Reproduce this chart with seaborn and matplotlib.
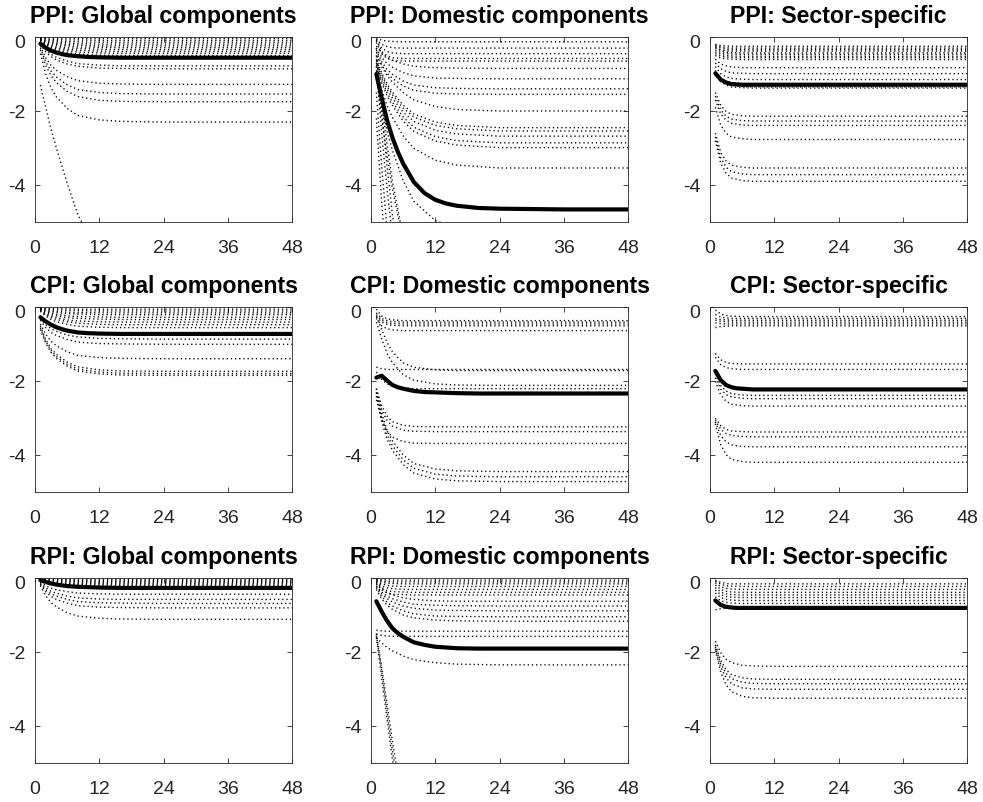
import numpy as np
import pandas as pd
import matplotlib
matplotlib.use("Agg")
import matplotlib.pyplot as plt
import matplotlib.transforms as mtransforms
import seaborn as sns

# ---------------- data ----------------
H = [1, 2, 3, 4, 6, 8, 12, 16, 24, 48]                       # horizons of dotted lines
H_THICK = [1, 2, 3, 4, 5, 6, 8, 10, 12, 14, 16, 20, 24, 36, 48]  # horizons of thick lines

titles = ["PPI: Global components", "PPI: Domestic components", "PPI: Sector-specific",
          "CPI: Global components", "CPI: Domestic components", "CPI: Sector-specific",
          "RPI: Global components", "RPI: Domestic components", "RPI: Sector-specific"]

x_ticks = [0, 12, 24, 36, 48]
y_ticks = [-4, -2, 0]
y_tick_labels = ["-4", "-2", "0"]

ppi_global_lines = [
    [-0.01, -0.02, -0.03, -0.03, -0.03, -0.04, -0.04, -0.04, -0.04, -0.04],
    [-0.02, -0.04, -0.06, -0.06, -0.08, -0.08, -0.09, -0.09, -0.09, -0.09],
    [-0.03, -0.06, -0.09, -0.10, -0.12, -0.13, -0.14, -0.14, -0.14, -0.14],
    [-0.04, -0.09, -0.12, -0.13, -0.16, -0.18, -0.19, -0.19, -0.19, -0.19],
    [-0.05, -0.11, -0.15, -0.17, -0.20, -0.22, -0.24, -0.24, -0.24, -0.24],
    [-0.06, -0.13, -0.18, -0.20, -0.24, -0.27, -0.28, -0.29, -0.29, -0.29],
    [-0.07, -0.15, -0.21, -0.24, -0.29, -0.31, -0.33, -0.34, -0.34, -0.34],
    [-0.08, -0.17, -0.24, -0.28, -0.33, -0.36, -0.38, -0.39, -0.39, -0.39],
    [-0.09, -0.20, -0.27, -0.31, -0.37, -0.41, -0.43, -0.44, -0.44, -0.44],
    [-0.10, -0.22, -0.30, -0.35, -0.42, -0.46, -0.49, -0.50, -0.50, -0.50],
    [-0.15, -0.34, -0.47, -0.55, -0.65, -0.72, -0.76, -0.78, -0.78, -0.78],
    [-0.20, -0.40, -0.53, -0.62, -0.73, -0.79, -0.84, -0.85, -0.86, -0.86],
    [-0.25, -0.56, -0.77, -0.90, -1.07, -1.18, -1.25, -1.27, -1.28, -1.28],
    [-0.30, -0.67, -0.92, -1.08, -1.29, -1.42, -1.50, -1.53, -1.54, -1.54],
    [-0.35, -0.77, -1.05, -1.23, -1.47, -1.61, -1.71, -1.74, -1.75, -1.75],
    [-0.45, -1.00, -1.38, -1.62, -1.93, -2.12, -2.24, -2.28, -2.30, -2.30],
    [-1.30, -1.90, -2.50, -3.00, -3.95, -4.80, -5.90, -6.60, -7.10, -7.30],
]
ppi_global_thick = [-0.18, -0.29, -0.37, -0.42, -0.46, -0.49, -0.52, -0.54, -0.55, -0.555, -0.56, -0.56, -0.56, -0.56, -0.56]

ppi_domestic_lines = [
    [-0.02, -0.09, -0.11, -0.12, -0.13, -0.13, -0.13, -0.13, -0.13, -0.13],
    [-0.05, -0.20, -0.26, -0.29, -0.30, -0.30, -0.30, -0.30, -0.30, -0.30],
    [-0.08, -0.30, -0.39, -0.43, -0.45, -0.45, -0.45, -0.45, -0.45, -0.45],
    [-0.10, -0.39, -0.51, -0.56, -0.58, -0.58, -0.58, -0.58, -0.58, -0.58],
    [-0.15, -0.45, -0.58, -0.63, -0.65, -0.65, -0.65, -0.65, -0.65, -0.65],
    [-0.25, -0.43, -0.55, -0.63, -0.73, -0.79, -0.83, -0.84, -0.85, -0.85],
    [-0.30, -0.55, -0.72, -0.82, -0.96, -1.05, -1.11, -1.12, -1.13, -1.13],
    [-0.35, -0.67, -0.88, -1.01, -1.19, -1.30, -1.37, -1.39, -1.40, -1.40],
    [-0.40, -0.75, -0.98, -1.12, -1.32, -1.44, -1.52, -1.54, -1.55, -1.55],
    [-0.50, -0.80, -1.04, -1.22, -1.50, -1.70, -1.88, -1.96, -2.00, -2.00],
    [-0.60, -0.97, -1.27, -1.49, -1.84, -2.08, -2.30, -2.39, -2.45, -2.45],
    [-0.65, -1.03, -1.33, -1.56, -1.92, -2.16, -2.39, -2.48, -2.54, -2.54],
    [-0.70, -1.10, -1.41, -1.65, -2.03, -2.28, -2.52, -2.62, -2.68, -2.68],
    [-0.75, -1.17, -1.51, -1.76, -2.16, -2.44, -2.69, -2.80, -2.86, -2.86],
    [-0.80, -1.24, -1.59, -1.85, -2.27, -2.55, -2.81, -2.92, -2.99, -2.99],
    [-0.90, -1.43, -1.85, -2.17, -2.67, -3.01, -3.33, -3.46, -3.54, -3.54],
    [-1.00, -1.86, -2.55, -3.06, -3.88, -4.44, -4.96, -5.17, -5.30, -5.30],
    [-0.30, -2.00, -3.50, -4.80, -6.80, -8.00, -9.00, -9.30, -9.50, -9.50],
    [-0.80, -2.60, -4.10, -5.40, -7.20, -8.40, -9.20, -9.50, -9.60, -9.60],
    [-1.50, -3.50, -5.20, -6.50, -8.20, -9.20, -9.80, -10.0, -10.0, -10.0],
    [-2.20, -4.50, -6.20, -7.50, -9.00, -9.80, -10.3, -10.5, -10.5, -10.5],
    [-0.50, -1.80, -2.90, -3.90, -5.40, -6.50, -7.60, -8.00, -8.20, -8.20],
    [-1.00, -2.20, -3.20, -4.10, -5.50, -6.50, -7.50, -7.90, -8.10, -8.10],
]
ppi_domestic_thick = [-1.00, -1.65, -2.25, -2.72, -3.10, -3.42, -3.92, -4.22, -4.40, -4.50, -4.56, -4.62, -4.64, -4.66, -4.66]

ppi_sector_lines = [
    [-0.20, -0.23, -0.24, -0.25, -0.25, -0.25, -0.25, -0.25, -0.25, -0.25],
    [-0.22, -0.27, -0.29, -0.30, -0.30, -0.30, -0.30, -0.30, -0.30, -0.30],
    [-0.25, -0.30, -0.33, -0.34, -0.34, -0.34, -0.34, -0.34, -0.34, -0.34],
    [-0.30, -0.35, -0.37, -0.38, -0.38, -0.38, -0.38, -0.38, -0.38, -0.38],
    [-0.28, -0.37, -0.41, -0.42, -0.43, -0.43, -0.43, -0.43, -0.43, -0.43],
    [-0.35, -0.42, -0.45, -0.46, -0.47, -0.47, -0.47, -0.47, -0.47, -0.47],
    [-0.40, -0.47, -0.50, -0.51, -0.52, -0.52, -0.52, -0.52, -0.52, -0.52],
    [-0.45, -0.52, -0.54, -0.55, -0.56, -0.56, -0.56, -0.56, -0.56, -0.56],
    [-0.50, -0.57, -0.59, -0.60, -0.61, -0.61, -0.61, -0.61, -0.61, -0.61],
    [-0.60, -0.73, -0.78, -0.81, -0.83, -0.83, -0.83, -0.83, -0.83, -0.83],
    [-0.70, -0.86, -0.93, -0.97, -0.98, -0.99, -0.99, -0.99, -0.99, -0.99],
    [-0.80, -0.99, -1.08, -1.12, -1.14, -1.15, -1.15, -1.15, -1.15, -1.15],
    [-0.90, -1.15, -1.26, -1.31, -1.34, -1.35, -1.35, -1.35, -1.35, -1.35],
    [-1.00, -1.21, -1.30, -1.35, -1.37, -1.38, -1.38, -1.38, -1.38, -1.38],
    [-1.50, -1.85, -2.01, -2.09, -2.13, -2.14, -2.14, -2.14, -2.14, -2.14],
    [-1.60, -1.97, -2.14, -2.22, -2.26, -2.27, -2.27, -2.27, -2.27, -2.27],
    [-1.70, -2.08, -2.25, -2.33, -2.38, -2.39, -2.39, -2.39, -2.39, -2.39],
    [-1.90, -2.38, -2.60, -2.70, -2.75, -2.77, -2.77, -2.77, -2.77, -2.77],
    [-2.60, -3.12, -3.35, -3.46, -3.52, -3.54, -3.54, -3.54, -3.54, -3.54],
    [-2.70, -3.26, -3.52, -3.64, -3.70, -3.72, -3.72, -3.72, -3.72, -3.72],
    [-2.80, -3.41, -3.68, -3.81, -3.88, -3.90, -3.90, -3.90, -3.90, -3.90],
]
ppi_sector_thick = [-0.98, -1.15, -1.23, -1.27, -1.28, -1.29, -1.29, -1.29, -1.29, -1.29, -1.29, -1.29, -1.29, -1.29, -1.29]

cpi_global_lines = [
    [-0.01, -0.02, -0.03, -0.04, -0.04, -0.05, -0.05, -0.05, -0.05, -0.05],
    [-0.02, -0.04, -0.06, -0.07, -0.08, -0.09, -0.10, -0.10, -0.10, -0.10],
    [-0.03, -0.07, -0.09, -0.11, -0.13, -0.14, -0.15, -0.15, -0.15, -0.15],
    [-0.04, -0.09, -0.12, -0.14, -0.17, -0.18, -0.20, -0.20, -0.20, -0.20],
    [-0.05, -0.12, -0.16, -0.19, -0.23, -0.25, -0.26, -0.27, -0.27, -0.27],
    [-0.07, -0.15, -0.20, -0.23, -0.28, -0.30, -0.32, -0.33, -0.33, -0.33],
    [-0.08, -0.18, -0.24, -0.28, -0.34, -0.37, -0.39, -0.40, -0.40, -0.40],
    [-0.09, -0.20, -0.28, -0.33, -0.39, -0.43, -0.46, -0.47, -0.47, -0.47],
    [-0.11, -0.24, -0.33, -0.39, -0.46, -0.51, -0.54, -0.55, -0.55, -0.55],
    [-0.30, -0.47, -0.58, -0.65, -0.75, -0.80, -0.84, -0.85, -0.86, -0.86],
    [-0.35, -0.55, -0.68, -0.76, -0.87, -0.94, -0.98, -0.99, -1.00, -1.00],
    [-0.45, -0.73, -0.92, -1.04, -1.20, -1.30, -1.36, -1.38, -1.39, -1.39],
    [-0.50, -0.87, -1.12, -1.27, -1.48, -1.61, -1.69, -1.72, -1.73, -1.73],
    [-0.55, -0.92, -1.17, -1.33, -1.54, -1.67, -1.75, -1.78, -1.79, -1.79],
    [-0.60, -0.97, -1.22, -1.38, -1.59, -1.72, -1.80, -1.83, -1.84, -1.84],
]
cpi_global_thick = [-0.27, -0.38, -0.47, -0.54, -0.59, -0.63, -0.68, -0.70, -0.71, -0.715, -0.72, -0.72, -0.72, -0.72, -0.72]

cpi_domestic_lines = [
    [-0.05, -0.24, -0.31, -0.34, -0.36, -0.36, -0.36, -0.36, -0.36, -0.36],
    [-0.15, -0.30, -0.36, -0.39, -0.40, -0.40, -0.40, -0.40, -0.40, -0.40],
    [-0.20, -0.35, -0.41, -0.44, -0.45, -0.45, -0.45, -0.45, -0.45, -0.45],
    [-0.25, -0.40, -0.46, -0.49, -0.50, -0.50, -0.50, -0.50, -0.50, -0.50],
    [-0.30, -0.50, -0.58, -0.61, -0.63, -0.63, -0.63, -0.63, -0.63, -0.63],
    [-1.62, -1.66, -1.68, -1.68, -1.68, -1.68, -1.68, -1.68, -1.68, -1.68],
    [-0.25, -0.60, -0.95, -1.20, -1.50, -1.62, -1.69, -1.71, -1.71, -1.71],
    [-0.40, -0.85, -1.25, -1.50, -1.82, -1.97, -2.07, -2.10, -2.11, -2.11],
    [-1.75, -1.95, -2.07, -2.13, -2.18, -2.20, -2.20, -2.20, -2.20, -2.20],
    [-2.20, -2.66, -2.94, -3.09, -3.19, -3.22, -3.23, -3.23, -3.23, -3.23],
    [-2.30, -2.78, -3.06, -3.21, -3.32, -3.35, -3.36, -3.36, -3.36, -3.36],
    [-2.50, -3.03, -3.35, -3.51, -3.63, -3.67, -3.68, -3.68, -3.68, -3.68],
    [-2.20, -2.87, -3.32, -3.61, -3.99, -4.22, -4.37, -4.42, -4.44, -4.44],
    [-2.30, -2.98, -3.44, -3.74, -4.12, -4.35, -4.51, -4.56, -4.58, -4.58],
    [-2.40, -3.09, -3.56, -3.86, -4.25, -4.48, -4.64, -4.69, -4.71, -4.71],
]
cpi_domestic_thick = [-1.90, -1.85, -1.98, -2.10, -2.16, -2.20, -2.26, -2.29, -2.30, -2.31, -2.32, -2.33, -2.33, -2.33, -2.33]

cpi_sector_lines = [
    [-0.07, -0.18, -0.22, -0.24, -0.25, -0.25, -0.25, -0.25, -0.25, -0.25],
    [-0.20, -0.26, -0.29, -0.30, -0.30, -0.30, -0.30, -0.30, -0.30, -0.30],
    [-0.30, -0.33, -0.34, -0.35, -0.35, -0.35, -0.35, -0.35, -0.35, -0.35],
    [-0.35, -0.38, -0.39, -0.40, -0.40, -0.40, -0.40, -0.40, -0.40, -0.40],
    [-0.42, -0.44, -0.45, -0.45, -0.45, -0.45, -0.45, -0.45, -0.45, -0.45],
    [-0.55, -0.52, -0.51, -0.50, -0.50, -0.50, -0.50, -0.50, -0.50, -0.50],
    [-1.25, -1.42, -1.49, -1.52, -1.53, -1.53, -1.53, -1.53, -1.53, -1.53],
    [-1.35, -1.55, -1.63, -1.66, -1.68, -1.68, -1.68, -1.68, -1.68, -1.68],
    [-1.80, -2.12, -2.26, -2.33, -2.37, -2.38, -2.38, -2.38, -2.38, -2.38],
    [-1.90, -2.21, -2.36, -2.42, -2.46, -2.47, -2.47, -2.47, -2.47, -2.47],
    [-2.00, -2.37, -2.54, -2.62, -2.66, -2.67, -2.67, -2.67, -2.67, -2.67],
    [-3.00, -3.20, -3.30, -3.34, -3.36, -3.37, -3.37, -3.37, -3.37, -3.37],
    [-3.05, -3.30, -3.41, -3.46, -3.49, -3.50, -3.50, -3.50, -3.50, -3.50],
    [-3.10, -3.47, -3.64, -3.72, -3.76, -3.77, -3.77, -3.77, -3.77, -3.77],
    [-3.15, -3.72, -3.98, -4.11, -4.17, -4.19, -4.19, -4.19, -4.19, -4.19],
]
cpi_sector_thick = [-1.72, -1.97, -2.10, -2.16, -2.19, -2.20, -2.22, -2.22, -2.22, -2.22, -2.22, -2.22, -2.22, -2.22, -2.22]

rpi_global_lines = [
    [-0.01, -0.02, -0.02, -0.02, -0.03, -0.03, -0.03, -0.03, -0.03, -0.03],
    [-0.01, -0.03, -0.04, -0.04, -0.05, -0.06, -0.06, -0.06, -0.06, -0.06],
    [-0.02, -0.04, -0.06, -0.06, -0.08, -0.08, -0.09, -0.09, -0.09, -0.09],
    [-0.02, -0.05, -0.07, -0.08, -0.10, -0.11, -0.12, -0.12, -0.12, -0.12],
    [-0.03, -0.07, -0.09, -0.11, -0.13, -0.14, -0.15, -0.15, -0.15, -0.15],
    [-0.04, -0.08, -0.11, -0.13, -0.15, -0.17, -0.18, -0.18, -0.18, -0.18],
    [-0.04, -0.09, -0.13, -0.15, -0.18, -0.19, -0.21, -0.21, -0.21, -0.21],
    [-0.10, -0.20, -0.27, -0.31, -0.36, -0.40, -0.42, -0.43, -0.43, -0.43],
    [-0.12, -0.26, -0.35, -0.40, -0.48, -0.53, -0.56, -0.57, -0.57, -0.57],
    [-0.15, -0.31, -0.42, -0.48, -0.57, -0.63, -0.66, -0.67, -0.68, -0.68],
    [-0.17, -0.36, -0.49, -0.57, -0.67, -0.74, -0.78, -0.79, -0.80, -0.80],
    [-0.20, -0.47, -0.66, -0.77, -0.93, -1.02, -1.08, -1.10, -1.11, -1.11],
]
rpi_global_thick = [-0.05, -0.10, -0.14, -0.17, -0.19, -0.21, -0.23, -0.24, -0.25, -0.255, -0.26, -0.26, -0.26, -0.26, -0.26]

rpi_domestic_lines = [
    [-0.02, -0.04, -0.04, -0.05, -0.05, -0.05, -0.05, -0.05, -0.05, -0.05],
    [-0.03, -0.07, -0.09, -0.10, -0.10, -0.10, -0.10, -0.10, -0.10, -0.10],
    [-0.05, -0.11, -0.13, -0.14, -0.15, -0.15, -0.15, -0.15, -0.15, -0.15],
    [-0.07, -0.15, -0.19, -0.21, -0.22, -0.22, -0.22, -0.22, -0.22, -0.22],
    [-0.09, -0.21, -0.26, -0.28, -0.30, -0.30, -0.30, -0.30, -0.30, -0.30],
    [-0.11, -0.26, -0.33, -0.36, -0.37, -0.38, -0.38, -0.38, -0.38, -0.38],
    [-0.14, -0.31, -0.39, -0.43, -0.44, -0.45, -0.45, -0.45, -0.45, -0.45],
    [-0.15, -0.29, -0.39, -0.45, -0.53, -0.57, -0.61, -0.62, -0.62, -0.62],
    [-0.20, -0.37, -0.48, -0.55, -0.64, -0.70, -0.73, -0.74, -0.75, -0.75],
    [-0.22, -0.42, -0.55, -0.64, -0.75, -0.81, -0.86, -0.87, -0.88, -0.88],
    [-0.25, -0.49, -0.65, -0.75, -0.88, -0.96, -1.02, -1.03, -1.04, -1.04],
    [-0.30, -0.56, -0.73, -0.84, -0.99, -1.07, -1.13, -1.15, -1.16, -1.16],
    [-1.40, -1.42, -1.43, -1.43, -1.43, -1.43, -1.43, -1.43, -1.43, -1.43],
    [-1.50, -1.54, -1.56, -1.57, -1.57, -1.57, -1.57, -1.57, -1.57, -1.57],
    [-1.60, -1.75, -1.87, -1.96, -2.10, -2.20, -2.28, -2.32, -2.34, -2.34],
    [-1.50, -2.40, -3.40, -4.40, -6.20, -7.50, -8.50, -8.80, -9.00, -9.00],
    [-1.60, -2.70, -3.80, -4.90, -6.60, -7.80, -8.80, -9.00, -9.10, -9.10],
    [-1.55, -2.50, -3.60, -4.65, -6.40, -7.60, -8.60, -8.90, -9.00, -9.00],
]
rpi_domestic_thick = [-0.62, -0.90, -1.15, -1.35, -1.48, -1.58, -1.73, -1.80, -1.85, -1.87, -1.89, -1.90, -1.90, -1.90, -1.90]

rpi_sector_lines = [
    [-0.05, -0.11, -0.14, -0.15, -0.15, -0.15, -0.15, -0.15, -0.15, -0.15],
    [-0.08, -0.16, -0.20, -0.21, -0.22, -0.22, -0.22, -0.22, -0.22, -0.22],
    [-0.12, -0.23, -0.27, -0.29, -0.30, -0.30, -0.30, -0.30, -0.30, -0.30],
    [-0.18, -0.30, -0.35, -0.37, -0.38, -0.38, -0.38, -0.38, -0.38, -0.38],
    [-0.25, -0.37, -0.42, -0.44, -0.45, -0.45, -0.45, -0.45, -0.45, -0.45],
    [-0.32, -0.44, -0.49, -0.51, -0.52, -0.52, -0.52, -0.52, -0.52, -0.52],
    [-0.40, -0.52, -0.57, -0.59, -0.60, -0.60, -0.60, -0.60, -0.60, -0.60],
    [-0.50, -0.61, -0.65, -0.67, -0.68, -0.68, -0.68, -0.68, -0.68, -0.68],
    [-0.85, -0.82, -0.81, -0.80, -0.80, -0.80, -0.80, -0.80, -0.80, -0.80],
    [-1.70, -2.01, -2.19, -2.28, -2.35, -2.37, -2.38, -2.38, -2.38, -2.38],
    [-1.80, -2.22, -2.47, -2.60, -2.69, -2.72, -2.73, -2.73, -2.73, -2.73],
    [-1.85, -2.30, -2.57, -2.71, -2.81, -2.84, -2.85, -2.85, -2.85, -2.85],
    [-1.90, -2.40, -2.69, -2.85, -2.96, -2.99, -3.00, -3.00, -3.00, -3.00],
    [-1.95, -2.53, -2.88, -3.06, -3.19, -3.23, -3.24, -3.24, -3.24, -3.24],
]
rpi_sector_thick = [-0.60, -0.72, -0.77, -0.79, -0.80, -0.80, -0.80, -0.80, -0.80, -0.80, -0.80, -0.80, -0.80, -0.80, -0.80]

panel_lines = [ppi_global_lines, ppi_domestic_lines, ppi_sector_lines,
               cpi_global_lines, cpi_domestic_lines, cpi_sector_lines,
               rpi_global_lines, rpi_domestic_lines, rpi_sector_lines]
panel_thick = [ppi_global_thick, ppi_domestic_thick, ppi_sector_thick,
               cpi_global_thick, cpi_domestic_thick, cpi_sector_thick,
               rpi_global_thick, rpi_domestic_thick, rpi_sector_thick]

# ---------------- style ----------------
sns.set_style("white")
plt.rcParams["font.family"] = ["Liberation Sans", "DejaVu Sans"]
plt.rcParams["axes.unicode_minus"] = False
plt.rcParams["lines.scale_dashes"] = False

GRAY = "#262626"
fig = plt.figure(figsize=(9.83, 8.02), dpi=100)

lefts = [35 / 983, 371 / 983, 710 / 983]
bottoms = [1 - 222 / 802, 1 - 492.3 / 802, 1 - 763.3 / 802]
W = 257 / 983
HGT = 185 / 802

zero_shift = mtransforms.ScaledTranslation(0, -4 / 100, fig.dpi_scale_trans)

for k in range(9):
    r, c = divmod(k, 3)
    ax = fig.add_axes([lefts[c], bottoms[r], W, HGT])
    rows = []
    for i, line in enumerate(panel_lines[k]):
        for h, v in zip(H, line):
            rows.append({"h": h, "v": v, "line": i})
    df = pd.DataFrame(rows)
    sns.lineplot(data=df, x="h", y="v", units="line", estimator=None,
                 color="black", linewidth=1.0, linestyle=(0, (0.9, 2.1)),
                 legend=False, ax=ax)
    dft = pd.DataFrame({"h": H_THICK, "v": panel_thick[k]})
    sns.lineplot(data=dft, x="h", y="v", color="black", linewidth=3.0,
                 legend=False, ax=ax)
    ax.set_xlim(0, 48)
    ax.set_ylim(-5, 0)
    ax.set_xticks(x_ticks)
    ax.set_yticks(y_ticks)
    ax.set_yticklabels(y_tick_labels)
    ax.set_xlabel("")
    ax.set_ylabel("")
    for s in ax.spines.values():
        s.set_visible(True)
        s.set_color(GRAY)
        s.set_linewidth(0.6)
    ax.tick_params(direction="in", length=3.5, width=0.6, color=GRAY,
                   labelcolor=GRAY, labelsize=14, top=True, right=True,
                   bottom=True, left=True)
    ax.tick_params(axis="x", pad=13)
    ax.tick_params(axis="y", pad=7)
    ytk = ax.yaxis.get_major_ticks()[-1]
    ytk.label1.set_transform(ytk.label1.get_transform() + zero_shift)
    ax.set_title(titles[k], fontsize=16.7, fontweight="bold", color="black", pad=10)

fig.savefig("out.png", dpi=100)
